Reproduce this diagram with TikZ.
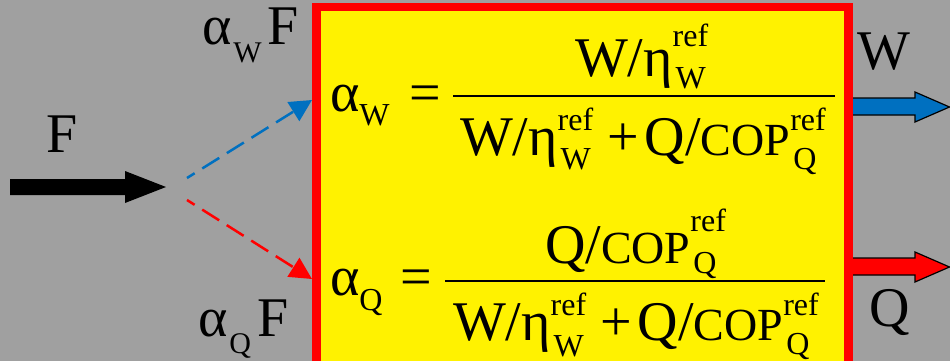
\documentclass[tikz,border=0pt]{standalone}
\usepackage{fontspec}
\setmainfont{Liberation Serif}
\usetikzlibrary{arrows.meta}
\definecolor{bgray}{RGB}{160,160,160}
\definecolor{oblue}{RGB}{0,112,192}
\newcommand\mainsz{\fontsize{56pt}{60pt}\selectfont\fontspec{Liberation Serif}}
\newcommand\scrsz{\fontsize{32pt}{34pt}\selectfont}
\newcommand\labsz{\fontsize{30pt}{32pt}\selectfont}
\newcommand\copsz{\fontsize{46pt}{48pt}\selectfont}
% \SupSub{raise}{lower}{sup}{sub}
\newcommand\SupSub[4]{{\scrsz
  \setbox0=\hbox{\raisebox{#1pt}{#3}}\setbox2=\hbox{\hspace{3pt}\raisebox{-#2pt}{#4}}%
  \dimen0=\wd0 \ifdim\wd2>\dimen0 \dimen0=\wd2\fi
  \rlap{\box0}\rlap{\box2}\hspace*{\dimen0}}}
\begin{document}
\begin{tikzpicture}[x=1pt,y=-1pt,
  txt/.style={inner sep=0pt,outer sep=0pt,anchor=base west,font=\mainsz},
  blockarrow/.style={draw=black,line width=1.2pt,line join=miter},
  splitline/.style={line width=2.5pt,dash pattern=on 20pt off 9pt,dash phase=11pt,
    -{Triangle[length=22pt,width=22pt]}},
  fracbar/.style={line width=2.5pt}]
\useasboundingbox (0,0) rectangle (950,361);
\clip (0,0) rectangle (950,361);
\fill[bgray] (0,0) rectangle (950,361);
% output arrows (left ends hidden under the box border)
\draw[blockarrow,fill=oblue] (846,98) -- (915,98) -- (915,92) -- (949.5,107) -- (915,122) -- (915,115) -- (846,115) -- cycle;
\draw[blockarrow,fill=red] (846,258) -- (915,258) -- (915,252) -- (949.5,267) -- (915,282) -- (915,275) -- (846,275) -- cycle;
% box
\draw[red,line width=8.5pt,fill=yellow] (316.25,7.25) rectangle (848.25,380);
% input arrow
\fill[black] (10,179) -- (125,179) -- (125,171) -- (166,187) -- (125,203) -- (125,195) -- (10,195) -- cycle;
% split connectors
\coordinate (ws) at (187,178); \coordinate (we) at (312,100);
\coordinate (qs) at (187,200); \coordinate (qe) at (312,279);
\draw[splitline,oblue] (ws) -- (we);
\draw[splitline,red] (qs) -- (qe);
% labels
\node[txt] (F) at (46,152) {F};
\node[txt] (awf) at (202,45) {α\hspace{2pt}\raisebox{-18pt}{\labsz W}\hspace{6pt}F};
\node[txt] (aqf) at (198,336) {α\hspace{2pt}\raisebox{-17pt}{\labsz Q}\hspace{6pt}F};
\node[txt] (Wout) at (857,70) {W};
\node[txt] (Qout) at (869,326) {Q};
% formula 1
\node[txt] (a1) at (330,111) {α\raisebox{-14pt}{\scrsz W}};
\node[txt] (eq1) at (409,111) {=};
\coordinate (b1l) at (453,96); \coordinate (b1r) at (835,96);
\draw[fracbar] (b1l) -- (b1r);
\node[txt] (n1) at (575,76) {W/η\SupSub{29}{13}{ref}{W}};
\node[txt] (d1) at (460,155) {W/η\SupSub{25}{14}{ref}{W}\hspace{14pt}+\hspace{6pt}Q/{\copsz COP}\SupSub{25}{14}{ref}{Q}};
% formula 2
\node[txt] (a2) at (330,295) {α\raisebox{-15pt}{\scrsz Q}};
\node[txt] (eq2) at (400,295) {=};
\coordinate (b2l) at (445,281); \coordinate (b2r) at (825,281);
\draw[fracbar] (b2l) -- (b2r);
\node[txt] (n2) at (545,263) {Q/{\copsz COP}\SupSub{32}{10}{ref}{Q}};
\node[txt] (d2) at (453,340) {W/η\SupSub{25}{16}{ref}{W}\hspace{14pt}+\hspace{6pt}Q/{\copsz COP}\SupSub{25}{14}{ref}{Q}};
\end{tikzpicture}
\end{document}
